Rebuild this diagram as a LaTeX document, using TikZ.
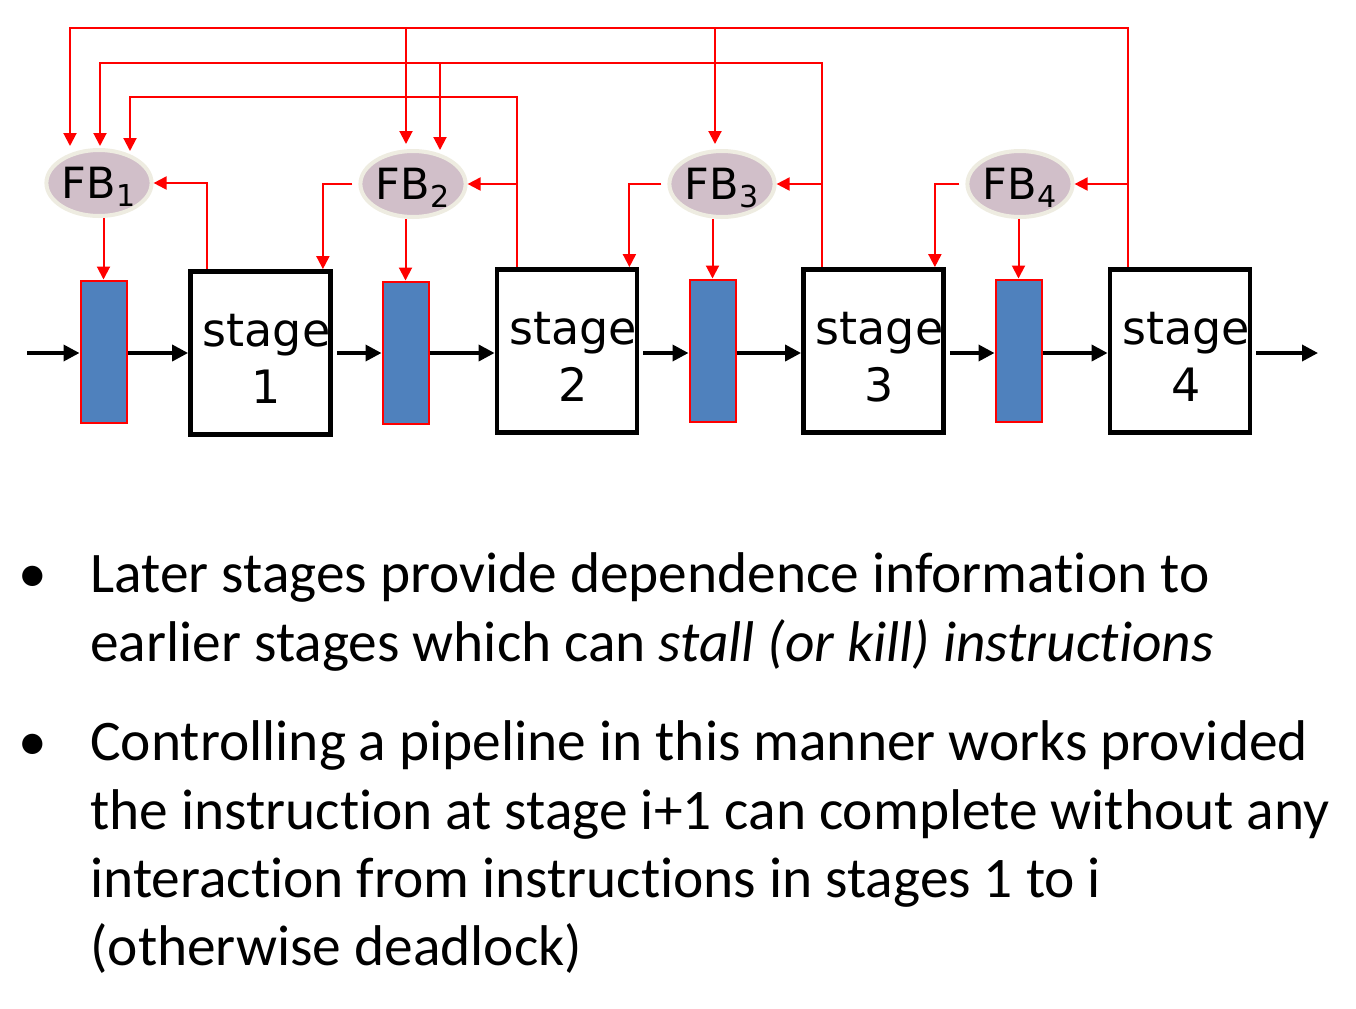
\documentclass[tikz,border=0pt]{standalone}
\usepackage{fontspec}
\setmainfont{Carlito}[Ligatures=NoCommon]
\newfontfamily\labelfont{DejaVu Sans}
\usetikzlibrary{arrows.meta,calc,shapes.geometric}
\definecolor{regblue}{RGB}{79,129,189}
\definecolor{fbfill}{RGB}{209,191,201}
\definecolor{fbedge}{RGB}{238,236,225}

\begin{document}
\begin{tikzpicture}[x=0.5pt,y=-0.5pt,
    reg/.style={draw=red,line width=1pt,fill=regblue,minimum width=23pt,minimum height=71pt,inner sep=0pt},
    stagebox/.style={draw,line width=2.4pt,minimum width=70pt,minimum height=81.5pt,inner sep=0pt},
    stagetxt/.style={font=\labelfont\fontsize{23pt}{28.5pt}\selectfont,align=center,inner sep=0pt},
    fb/.style={ellipse,draw=fbedge,line width=2pt,fill=fbfill,minimum width=49.5pt,minimum height=33pt,inner sep=0pt,
      font=\labelfont\fontsize{21.5pt}{25pt}\selectfont,text height=15.6pt,text depth=0pt},
    ctl/.style={red,line width=1pt,-{Triangle[length=6.5pt,width=6.5pt]}},
    flow/.style={line width=1.8pt,-{Triangle[length=8pt,width=8pt]}},
    bul/.style={anchor=base west,inner sep=0pt,font=\fontsize{28.7pt}{34pt}\selectfont}]
  \useasboundingbox (0,0) rectangle (1356,1008);
  % registers, stages and feedback blocks
  \foreach \i/\rx/\ry/\sx/\sy/\fx/\fy in {1/103.5/351.5/260.5/353/99/183, 2/405.5/352.5/567/351/413/184,
      3/712.5/350.5/873.5/351/722/184, 4/1018.5/350.5/1180/351/1020/184}{
    \node[reg] (reg\i) at (\rx,\ry) {};
    \node[stagebox] (st\i) at (\sx,\sy) {};
    \node[stagetxt] (lab\i) at ($(st\i)+(6,6)$) {stage\\\i};
    \node[fb] (fb\i) at (\fx,\fy) {FB\textsubscript{\i}};
  }
  \coordinate (busA) at (0,28);
  \coordinate (busB) at (0,63);
  \coordinate (busC) at (0,97);
  \coordinate (tap1) at ($(st1.north west)+(19,0)$);
  \coordinate (tap2) at ($(st2.north west)+(22,0)$);
  \coordinate (tap3) at ($(st3.north west)+(21,0)$);
  \coordinate (tap4) at ($(st4.north west)+(20,0)$);
  \coordinate (inA1) at ($(fb1.north)+(-29,-2)$);
  \coordinate (inB1) at ($(fb1.north)+(1,-2)$);
  \coordinate (inC1) at ($(fb1.north)+(31,3)$);
  \coordinate (inA2) at ($(fb2.north)+(-7,-5)$);
  \coordinate (inB2) at ($(fb2.north)+(27,1)$);
  \coordinate (inA3) at ($(fb3.north)+(-7,-5)$);
  \coordinate (sin1) at ($(st1.north east)+(-10,0)$);
  \coordinate (sin2) at ($(st2.north east)+(-10,0)$);
  \coordinate (sin3) at ($(st3.north east)+(-11,0)$);
  % feedback from later stages
  \draw[ctl] (tap4) -- (tap4 |- busA) -| (inA1);
  \draw[ctl] (inA2 |- busA) -- (inA2);
  \draw[ctl] (inA3 |- busA) -- (inA3);
  \draw[ctl] (tap3) -- (tap3 |- busB) -| (inB1);
  \draw[ctl] (inB2 |- busB) -- (inB2);
  \draw[ctl] (tap2) -- (tap2 |- busC) -| (inC1);
  \draw[ctl] (tap1) |- (fb1.east);
  \foreach \i in {2,3,4} \draw[ctl] (tap\i |- fb\i.east) -- (fb\i.east);
  \foreach \i/\j in {2/1,3/2,4/3} \draw[ctl,shorten <=3pt] (fb\i.west) -| (sin\j);
  \foreach \i in {1,...,4} \draw[ctl] (reg\i.north |- fb\i.south) -- (reg\i.north);
  % data path
  \coordinate (src) at (27,353);
  \coordinate (snk) at (1318,353);
  \draw[flow] (src) -- (src -| reg1.west);
  \foreach \i in {1,...,4} \draw[flow] (reg\i.east |- src) -- (st\i.west |- src);
  \foreach \i/\j in {1/2,2/3,3/4} \draw[flow,shorten <=2pt] (st\i.east |- src) -- (reg\j.west |- src);
  \draw[flow,shorten <=2pt] (st4.east |- src) -- (snk);
  % bullet text
  \node[bul,anchor=base] (b1) at (33,592) {•};
  \node[bul] (l1) at (90,592) {Later stages provide dependence information to};
  \node[bul] (l2) at (90,661) {earlier stages which can \textit{stall (or kill) instructions}};
  \node[bul,anchor=base] (b2) at (33,760) {•};
  \node[bul] (l3) at (90,760) {Controlling a pipeline in this manner works provided};
  \node[bul] (l4) at (90,829) {the instruction at stage i+1 can complete without any};
  \node[bul] (l5) at (90,897) {interaction from instructions in stages 1 to i};
  \node[bul] (l6) at (90,965) {(otherwise deadlock)};
\end{tikzpicture}
\end{document}
